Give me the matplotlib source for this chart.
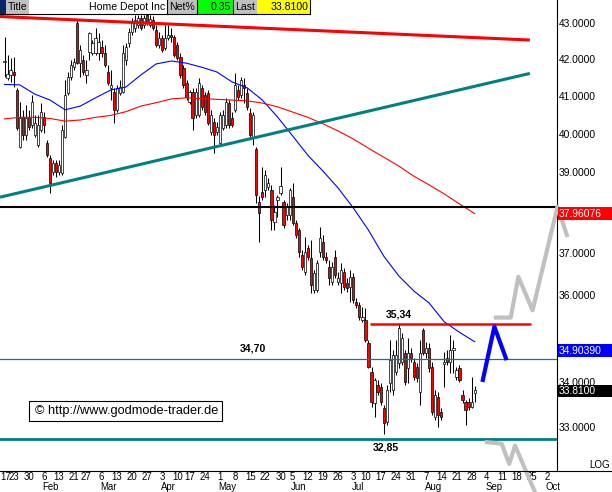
import numpy as np
import pandas as pd
import matplotlib
matplotlib.use("Agg")
import matplotlib.pyplot as plt
from matplotlib.patches import Rectangle
from matplotlib.lines import Line2D
from matplotlib.ticker import FixedLocator, FixedFormatter, NullLocator

plt.rcParams['font.family'] = ['Liberation Sans', 'DejaVu Sans']

# ---------------- data ----------------
title = "Home Depot Inc"
net_pct = "0.35"
last_txt = "33.8100"

first_session = "2006-01-17"
last_session = "2006-08-31"
holidays = ["2006-02-20", "2006-04-14", "2006-05-29", "2006-07-04"]
future_end = "2006-10-13"
candle_start = "2006-01-18"

opens = [41.92, 41.48, 41.57, 41.65, 41.16, 39.65, 40.44, 39.97, 40.44, 40.23,
         39.97, 39.70, 40.10, 40.44, 39.75, 39.37, 39.01, 39.24, 39.01, 38.98,
         39.91, 41.08, 41.51, 41.78, 43.01, 41.89, 41.98, 41.57, 42.20, 42.17,
         42.17, 42.17, 42.34, 42.17, 41.65, 41.22, 41.11, 40.63, 41.08, 41.11,
         41.98, 42.45, 42.76, 42.87, 42.95, 43.15, 42.95, 43.23, 42.95, 43.09,
         42.81, 42.39, 42.59, 42.31, 42.59, 42.67, 42.61, 42.39, 42.06, 41.76,
         41.35, 40.84, 41.11, 40.49, 40.49, 41.22, 41.03, 41.08, 40.04, 40.31,
         40.04, 39.75, 40.15, 40.23, 40.81, 40.41, 40.63, 41.16, 41.03, 41.30,
         41.08, 40.55, 39.91, 39.60, 38.25, 38.50, 38.55, 38.63, 38.55, 37.75,
         38.30, 38.47, 38.25, 37.92, 37.92, 38.37, 37.72, 37.55, 36.94, 36.53,
         37.11, 36.87, 36.10, 36.10, 37.01, 37.26, 36.89, 36.65, 36.29, 36.89,
         36.29, 36.27, 36.53, 36.27, 36.17, 36.41, 35.82, 35.75, 35.40, 35.40,
         34.87, 34.22, 33.53, 33.93, 33.88, 33.42, 33.12, 33.97, 33.81, 34.22,
         34.42, 34.44, 34.64, 34.31, 34.64, 34.44, 34.33, 33.77, 35.17, 34.64,
         34.76, 34.33, 33.22, 33.66, 33.33, 34.40, 34.53, 34.44, 34.71, 34.10,
         34.31, 33.70, 33.55, 33.55, 33.44, 33.75]
highs = [42.61, 42.12, 42.03, 42.06, 41.22, 40.84, 40.63, 40.76, 40.63, 41.03,
         40.49, 40.49, 40.81, 40.57, 39.83, 39.44, 39.32, 39.32, 39.32, 40.23,
         41.43, 41.65, 41.98, 42.03, 43.09, 42.39, 42.12, 41.98, 42.76, 42.53,
         42.87, 42.73, 42.53, 42.39, 41.84, 41.70, 41.22, 41.30, 41.43, 42.39,
         42.45, 42.87, 43.15, 43.23, 43.23, 43.23, 43.23, 43.29, 43.23, 43.20,
         42.95, 42.76, 42.67, 42.95, 42.95, 42.87, 42.67, 42.48, 42.17, 41.84,
         41.43, 41.16, 41.22, 41.22, 41.48, 41.30, 41.11, 41.16, 40.63, 40.41,
         40.31, 40.57, 40.63, 40.95, 40.89, 40.57, 41.62, 41.30, 41.51, 41.48,
         41.22, 40.68, 40.57, 39.65, 38.40, 39.14, 39.06, 38.85, 38.68, 38.17,
         38.42, 39.14, 38.30, 38.22, 38.60, 38.73, 37.80, 37.60, 37.06, 37.38,
         37.19, 37.31, 36.58, 36.82, 37.62, 37.43, 37.01, 36.82, 36.77, 37.06,
         36.53, 36.75, 36.63, 36.39, 36.58, 36.51, 35.92, 35.82, 35.70, 35.68,
         34.94, 34.33, 34.08, 34.04, 33.97, 33.48, 33.93, 34.94, 34.71, 34.94,
         35.34, 35.10, 34.71, 34.99, 34.76, 34.53, 34.42, 34.94, 35.22, 34.90,
         34.87, 34.44, 33.81, 33.77, 33.42, 34.66, 34.71, 35.06, 34.94, 34.33,
         34.37, 33.81, 33.59, 33.64, 34.10, 33.90]
lows = [41.51, 41.43, 41.38, 41.25, 40.10, 39.62, 39.83, 39.83, 40.10, 40.15,
        39.91, 39.65, 40.04, 40.02, 39.39, 38.47, 38.93, 38.88, 38.93, 38.93,
        39.89, 41.03, 41.43, 41.70, 41.87, 41.51, 41.57, 41.35, 41.98, 42.12,
        42.12, 41.98, 42.06, 41.78, 41.30, 40.89, 40.28, 40.57, 41.03, 41.08,
        41.84, 42.34, 42.67, 42.76, 42.87, 42.81, 42.87, 42.95, 42.90, 42.81,
        42.34, 42.31, 42.20, 42.25, 42.53, 42.48, 42.06, 41.98, 41.48, 41.22,
        40.89, 40.78, 40.10, 40.41, 40.44, 40.63, 40.49, 40.23, 39.97, 39.49,
        39.97, 39.70, 40.10, 40.15, 40.15, 40.18, 40.57, 40.89, 40.95, 40.81,
        40.63, 39.89, 39.70, 38.22, 37.26, 38.30, 38.37, 38.55, 37.55, 37.55,
        37.87, 38.42, 37.60, 37.80, 37.80, 37.68, 37.36, 36.89, 36.58, 36.46,
        36.82, 36.03, 36.03, 36.06, 36.89, 36.82, 36.75, 36.22, 36.22, 36.39,
        36.22, 36.03, 36.10, 36.06, 35.82, 35.80, 35.68, 35.40, 35.36, 34.90,
        34.31, 33.44, 33.22, 33.70, 33.48, 32.85, 33.05, 33.77, 33.70, 34.15,
        34.31, 34.37, 33.93, 33.97, 34.44, 34.04, 33.99, 33.48, 34.60, 34.53,
        34.22, 33.26, 33.16, 33.01, 33.16, 33.88, 34.37, 34.19, 34.19, 34.04,
        33.99, 33.53, 33.05, 33.37, 33.42, 33.55]
closes = [41.95, 41.59, 41.70, 41.57, 40.15, 40.41, 39.97, 40.41, 40.18, 40.84,
          40.28, 40.23, 40.57, 40.23, 39.44, 38.73, 39.24, 39.01, 39.19, 40.10,
          41.03, 41.51, 41.84, 41.92, 41.89, 42.25, 41.65, 41.70, 42.73, 42.45,
          42.59, 42.48, 42.17, 41.84, 41.35, 41.30, 40.63, 41.22, 41.24, 42.17,
          42.34, 42.76, 43.01, 43.09, 43.15, 42.87, 43.15, 43.04, 43.12, 42.87,
          42.39, 42.59, 42.25, 42.59, 42.67, 42.61, 42.12, 42.03, 41.57, 41.30,
          40.97, 41.11, 40.41, 41.11, 41.35, 40.71, 40.57, 40.28, 40.49, 39.97,
          40.18, 40.49, 40.49, 40.84, 40.23, 40.23, 41.30, 40.97, 41.43, 41.22,
          40.71, 39.97, 40.49, 38.42, 37.97, 38.37, 38.93, 38.73, 37.80, 38.00,
          38.37, 38.65, 37.68, 38.12, 38.55, 37.72, 37.43, 37.01, 36.65, 37.01,
          36.89, 36.22, 36.51, 36.75, 37.36, 36.89, 36.82, 36.39, 36.65, 36.46,
          36.39, 36.58, 36.17, 36.15, 36.41, 35.87, 35.75, 35.47, 35.47, 34.94,
          34.33, 33.55, 34.04, 33.77, 33.55, 33.09, 33.81, 34.49, 34.60, 34.60,
          35.22, 34.99, 33.99, 34.64, 34.53, 34.10, 34.08, 34.64, 34.64, 34.76,
          34.31, 33.33, 33.70, 33.26, 33.22, 34.44, 34.44, 34.71, 34.76, 34.26,
          34.04, 33.59, 33.37, 33.44, 33.55, 33.81]

# moving averages sampled every 5 sessions starting at candle_start
ma_step = 5
ma_fast = [41.31, 41.30, 41.05, 40.89, 40.63, 40.73, 40.95, 41.16, 41.24, 41.57,
           41.87, 41.95, 41.89, 41.78, 41.65, 41.38, 41.22, 40.89, 40.44, 39.94,
           39.44, 39.03, 38.60, 38.10, 37.55, 36.92, 36.44, 36.08, 35.80, 35.36,
           35.12, 34.9039]
ma_slow = [40.39, 40.43, 40.43, 40.40, 40.33, 40.36, 40.43, 40.48, 40.58, 40.73,
           40.82, 40.92, 40.95, 40.93, 40.91, 40.89, 40.87, 40.81, 40.71, 40.57,
           40.43, 40.26, 40.07, 39.86, 39.62, 39.39, 39.16, 38.90, 38.68, 38.45,
           38.20, 37.96076]

# trend lines (session index, price)
resist_x, resist_y = [-0.49, 174.2], [43.19, 42.53]
support_x, support_y = [-0.49, 174.2], [38.37, 41.61]
level_black = 38.13
level_teal_mid = 34.52
level_teal_low = 32.75
level_red = 35.31
level_red_x = [121.5, 174.6]

proj_gray_up_x = [163.0, 167.9, 170.4, 175.1, 183.3, 186.4]
proj_gray_up_y = [35.46, 35.46, 36.42, 35.63, 38.13, 37.43]
proj_gray_dn_x = [160.0, 164.9, 167.4, 169.3, 175.9]
proj_gray_dn_y = [32.68, 32.65, 32.22, 32.61, 31.63]
proj_blue_x = [158.7, 162.5, 166.3]
proj_blue_y = [34.04, 35.25, 34.53]

annotations = [("34,70", 82.9, 34.74), ("35,34", 130.9, 35.53), ("32,85", 126.8, 32.57)]

ytick_vals = [33, 34, 36, 37, 39, 40, 41, 42, 43]
tick_dates = ["2006-01-17", "2006-01-23", "2006-01-30", "2006-02-06", "2006-02-13",
              "2006-02-21", "2006-02-27", "2006-03-06", "2006-03-13", "2006-03-20",
              "2006-03-27", "2006-04-03", "2006-04-10", "2006-04-17", "2006-04-24",
              "2006-05-01", "2006-05-08", "2006-05-15", "2006-05-22", "2006-05-30",
              "2006-06-05", "2006-06-12", "2006-06-19", "2006-06-26", "2006-07-03",
              "2006-07-10", "2006-07-17", "2006-07-24", "2006-07-31", "2006-08-07",
              "2006-08-14", "2006-08-21", "2006-08-28", "2006-09-04", "2006-09-11",
              "2006-09-18", "2006-09-25", "2006-10-02"]
month_names = ["Feb", "Mar", "Apr", "May", "Jun", "Jul", "Aug", "Sep", "Oct"]

# ---------------- calendar ----------------
sessions = pd.bdate_range(first_session, last_session, freq="C", holidays=holidays)
future = pd.bdate_range(pd.Timestamp(last_session) + pd.Timedelta(days=1), future_end)
cal = sessions.append(future)
pos = {d: i for i, d in enumerate(cal)}
start = pos[pd.Timestamp(candle_start)]

o = np.array(opens); h = np.array(highs); l = np.array(lows); c = np.array(closes)
x = np.arange(start, start + len(c))
ma_x = np.arange(len(ma_fast)) * ma_step + start
ma_x[-1] = x[-1]

# ---------------- figure ----------------
W, H = 612, 492
fig = plt.figure(figsize=(W / 100, H / 100), dpi=100)
fig.patch.set_facecolor("white")

def fx(px):
    return px / W

def fy(py):
    return 1 - py / H

ax = fig.add_axes([0, fy(471), 557 / W, 471 / H])
ax.set_yscale("log")
ax.set_ylim(32.07, 43.66)
ax.set_xlim(-0.49, 183.15)

# candles
up = c >= o
body_lo = np.minimum(o, c)
body_hi = np.maximum(o, c)
ax.vlines(x, np.minimum(l, body_lo), np.maximum(h, body_hi), color="black", lw=0.75, zorder=3)
ax.bar(x, body_hi - body_lo, bottom=body_lo, width=0.72,
       color=np.where(up, "white", "#ff0000"), edgecolor="black", linewidth=0.5, zorder=4)

# moving averages
ax.plot(ma_x, ma_fast, color="#0000ff", lw=0.8, zorder=5)
ax.plot(ma_x, ma_slow, color="#ff0000", lw=0.8, zorder=5)

# trend & level lines
teal = "#008080"
ax.plot(resist_x, resist_y, color="#ff0000", lw=2.2, zorder=6, solid_capstyle="butt")
ax.plot(support_x, support_y, color=teal, lw=2.2, zorder=6, solid_capstyle="butt")
ax.axhline(level_black, color="black", lw=1.5, zorder=6)
ax.axhline(level_teal_mid, color=teal, lw=0.9, zorder=6)
ax.axhline(level_teal_low, color=teal, lw=2.0, zorder=6)
ax.plot(level_red_x, [level_red, level_red], color="#ff0000", lw=1.8, zorder=6, solid_capstyle="butt")

# projections
ax.plot(proj_gray_up_x, proj_gray_up_y, color="#c0c0c0", lw=3.0, zorder=7, clip_on=False)
ax.plot(proj_gray_dn_x, proj_gray_dn_y, color="#c0c0c0", lw=3.0, zorder=7, clip_on=False)
ax.plot(proj_blue_x, proj_blue_y, color="#0000ff", lw=3.0, zorder=7, clip_on=False)

for txt, ax_x, ax_y in annotations:
    ax.text(ax_x, ax_y, txt, ha="center", va="center", fontsize=7.6, fontweight="bold", zorder=8)

# axes styling
for s in ["top", "left", "bottom"]:
    ax.spines[s].set_visible(False)
ax.spines["right"].set_linewidth(0.8)
ax.yaxis.tick_right()
ax.yaxis.set_major_locator(FixedLocator(ytick_vals))
ax.yaxis.set_major_formatter(FixedFormatter([f"{v:.4f}" for v in ytick_vals]))
ax.yaxis.set_minor_locator(NullLocator())
ax.tick_params(axis="y", length=0, pad=1, labelsize=7.4)

tick_pos = [pos[pd.Timestamp(d)] for d in tick_dates]
day_labels = [str(pd.Timestamp(d).day) for d in tick_dates]
ax.set_xticks(tick_pos[1:])
ax.set_xticklabels(day_labels[1:])
ax.tick_params(axis="x", length=0, pad=0.6, labelsize=6.9)
# first label kept inside the plot's left edge
ax.text(-0.45, -0.0018, day_labels[0], transform=ax.get_xaxis_transform(),
        ha="left", va="top", fontsize=6.9)

prev_month = pd.Timestamp(tick_dates[0]).month
mi = 0
for d, p in zip(tick_dates, tick_pos):
    m = pd.Timestamp(d).month
    if m != prev_month:
        fig.text(fx(ax.transData.transform((p - 0.5, 40))[0]), fy(491.6), month_names[mi],
                 ha="left", va="bottom", fontsize=6.9)
        mi += 1
        prev_month = m

# bottom line across full width
fig.add_artist(Line2D([0, 1], [fy(471), fy(471)], transform=fig.transFigure, color="black", lw=0.8))

# value boxes on the right axis
def val_py(v):
    return H - ax.transData.transform((0, v))[1]

boxes = [("37.96076", ma_slow[-1], "#ff0000", 0.0),
         ("34.90390", ma_fast[-1], "#0000ff", 8.8),
         ("33.8100", c[-1], "#000000", 0.5)]
for txt, v, col, off in boxes:
    py = val_py(v) + off
    fig.add_artist(Rectangle((fx(557.5), fy(py + 6.3)), fx(612) - fx(557.5), 12.6 / H,
                             transform=fig.transFigure, facecolor=col, edgecolor="none", zorder=5))
    fig.text(fx(558.5), fy(py), txt, color="white", ha="left", va="center", fontsize=7.4, zorder=6)

fig.text(fx(610), fy(465.5), "LOG", ha="right", va="center", fontsize=7)

# copyright box
fig.add_artist(Rectangle((fx(29), fy(421)), fx(222) - fx(29), 20 / H, transform=fig.transFigure,
                         facecolor="white", edgecolor="black", linewidth=0.8, zorder=5))
fig.text(fx(35), fy(411), "\u00a9 http://www.godmode-trader.de", ha="left", va="center",
         fontsize=9.2, zorder=6)

# header
def hrect(x0, x1, col):
    fig.add_artist(Rectangle((fx(x0), fy(14)), fx(x1) - fx(x0), 14 / H, transform=fig.transFigure,
                             facecolor=col, edgecolor="none", zorder=5))

hrect(0, 6, "#0a246a")
hrect(6, 29, "#c0c0c0")
hrect(29, 167, "white")
hrect(167, 196.5, "#c0c0c0")
hrect(196.5, 233, "#00ff00")
hrect(233, 257, "#c0c0c0")
hrect(257, 310, "#ffff00")
fig.add_artist(Line2D([fx(0), fx(310)], [fy(14), fy(14)], transform=fig.transFigure, color="black", lw=0.8, zorder=6))
for xv in [166.7, 196.5, 233, 310]:
    fig.add_artist(Line2D([fx(xv), fx(xv)], [fy(0), fy(14)], transform=fig.transFigure, color="black", lw=0.8, zorder=6))

hy = fy(7)
fig.text(fx(8), hy, "Title", ha="left", va="center", fontsize=7.6, zorder=7)
fig.text(fx(165), hy, title, ha="right", va="center", fontsize=7.6, zorder=7)
fig.text(fx(169), hy, "Net%", ha="left", va="center", fontsize=7.6, zorder=7)
fig.text(fx(231), hy, net_pct, ha="right", va="center", fontsize=7.6, zorder=7)
fig.text(fx(235), hy, "Last", ha="left", va="center", fontsize=7.6, zorder=7)
fig.text(fx(308), hy, last_txt, ha="right", va="center", fontsize=7.6, zorder=7)

fig.savefig("out.png", dpi=100)
